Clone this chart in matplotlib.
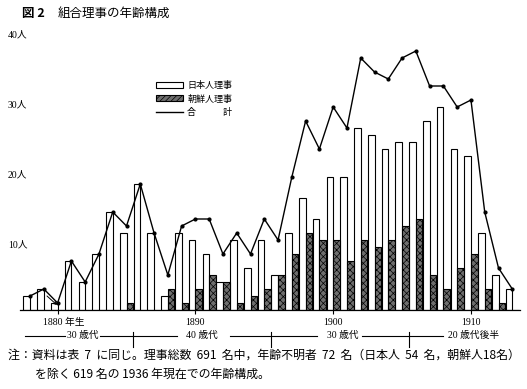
import matplotlib
matplotlib.use('Agg')
import matplotlib.pyplot as plt
from matplotlib.patches import Patch
from matplotlib.lines import Line2D
import matplotlib.transforms as mtransforms

# ---------------- data ----------------
years = list(range(1878, 1914))
japanese = [2, 3, 1, 7, 4, 8, 14, 11, 18, 11,
            2, 11, 10, 8, 4, 10, 6, 10, 5, 11,
            16, 13, 19, 19, 26, 25, 23, 24, 24, 27,
            29, 23, 22, 11, 5, 3]
korean = [0, 0, 0, 0, 0, 0, 0, 1, 0, 0,
          3, 1, 3, 5, 4, 1, 2, 3, 5, 8,
          11, 10, 10, 7, 10, 9, 10, 12, 13, 5,
          3, 6, 8, 3, 1, 0]
total = [j + k for j, k in zip(japanese, korean)]

xtick_years = [1880, 1890, 1900, 1910]
xtick_labels = ["1880 年生", "1890", "1900", "1910"]
ytick_values = [10, 20, 30, 40]
ytick_labels = ["10人", "20人", "30人", "40人"]
age_labels = ["30 歳代", "40 歳代", "30 歳代", "20 歳代後半"]
age_bounds = [1885.5, 1895.5, 1905.5]
legend_labels = ["日本人理事", "朝鮮人理事", "合　　　計"]

title_num = "図 2"
title_text = "組合理事の年齢構成"
note1 = "注：資料は表  7  に同じ。理事総数  691  名中，年齢不明者  72  名（日本人  54  名，朝鮮人18名）"
note2 = "を除く 619 名の 1936 年現在での年齢構成。"

# ---------------- style ----------------
plt.rcParams['font.family'] = ['Noto Sans CJK JP', 'DejaVu Sans']
plt.rcParams['hatch.linewidth'] = 0.5
SERIF = ['Liberation Serif', 'Noto Sans CJK JP']
CJK = ['Noto Sans CJK JP', 'DejaVu Sans']

W, H = 527, 389
fig = plt.figure(figsize=(W / 100, H / 100), dpi=100)
ax = fig.add_axes([20 / W, (H - 310) / H, 500 / W, 280 / H])
ax.set_xlim(1877.27, 1913.56)
ax.set_ylim(0, 40)

bw = 0.48
ax.bar(years, japanese, width=-bw, align='edge', facecolor='white',
       edgecolor='black', linewidth=0.8, zorder=2)
ax.bar(years, korean, width=bw, align='edge', facecolor='#6e6e6e',
       edgecolor='black', hatch='xxxxx', linewidth=0.8, zorder=2)
ax.plot(years, total, color='black', lw=1.0, marker='o', ms=2.0, zorder=3)

# small pointer arrow at the 1880 bar
ax.annotate('', xy=(1879.96, 0.7), xytext=(1879.23, 2.0),
            arrowprops=dict(arrowstyle='->', lw=0.7, color='black',
                            shrinkA=0, shrinkB=0, mutation_scale=5), zorder=4)

for s in ['left', 'top', 'right']:
    ax.spines[s].set_visible(False)
ax.spines['bottom'].set_linewidth(0.9)

ax.set_xticks(xtick_years)
ax.set_xticklabels(xtick_labels, family=SERIF, fontsize=7)
ax.tick_params(axis='x', direction='out', length=3.2, width=0.8, pad=2.5)
lab0 = ax.get_xticklabels()[0]
lab0.set_transform(lab0.get_transform() + mtransforms.ScaledTranslation(6 / 100, 0, fig.dpi_scale_trans))

ax.set_yticks(ytick_values)
ax.set_yticklabels(ytick_labels, family=SERIF, fontsize=7)
ax.tick_params(axis='y', length=0, pad=8.6)
for lab in ax.get_yticklabels():
    lab.set_horizontalalignment('left')
    lab.set_verticalalignment('top')

# age-group row below axis
tr = mtransforms.blended_transform_factory(ax.transData, ax.transAxes)
yrow = -0.092
segs = [(1877.63, 1880.53), (1883.08, 1888.69), (1892.51, 1898.82), (1902.09, 1907.97)]
for a, b in segs:
    ax.plot([a, b], [yrow, yrow], color='black', lw=0.8, transform=tr, clip_on=False)
for xb in age_bounds:
    ax.plot([xb, xb], [-0.079, -0.132], color='black', lw=0.8, transform=tr, clip_on=False)
age_x = [1881.81, 1890.48, 1900.71, 1908.33]
age_ha = ['center', 'center', 'center', 'left']
for x, t, ha in zip(age_x, age_labels, age_ha):
    ax.text(x, yrow, t, transform=tr, ha=ha, va='center', fontsize=7, family=SERIF)

# legend
handles = [Patch(facecolor='white', edgecolor='black', lw=0.8),
           Patch(facecolor='#6e6e6e', edgecolor='black', hatch='//////', lw=0.8),
           Line2D([], [], color='black', lw=1.0)]
fig.legend(handles, legend_labels, loc='upper left',
           bbox_to_anchor=(156 / W, 1 - 81 / H), bbox_transform=fig.transFigure,
           frameon=False, fontsize=6.5, handlelength=3.0, handleheight=0.6,
           handletextpad=0.45, labelspacing=0.5, borderpad=0, borderaxespad=0)

# title and notes
fig.text(22 / W, 1 - 13 / H, title_num, fontsize=9, fontweight='bold', va='center', family=CJK)
fig.text(58 / W, 1 - 13 / H, title_text, fontsize=9, va='center', family=CJK)
fig.text(8 / W, 1 - 355 / H, note1, fontsize=8.6, va='center', family=CJK)
fig.text(35 / W, 1 - 374 / H, note2, fontsize=8.6, va='center', family=CJK)

fig.savefig('out.png', dpi=100)
